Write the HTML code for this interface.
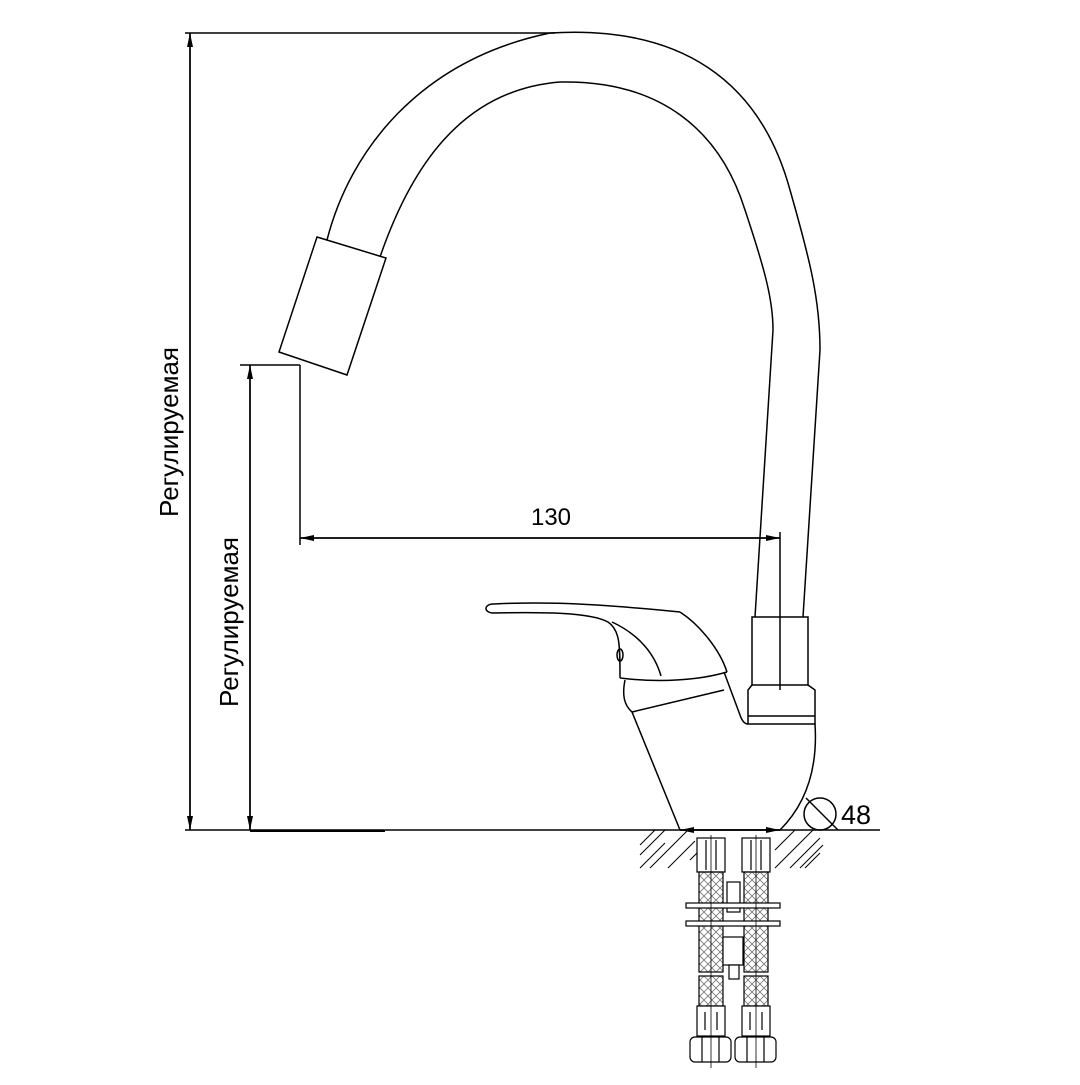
<!DOCTYPE html>
<html><head><meta charset="utf-8"><style>html,body{margin:0;padding:0;background:#fff}</style></head>
<body>
<svg width="1080" height="1080" viewBox="0 0 1080 1080" xmlns="http://www.w3.org/2000/svg" font-family="Liberation Sans, sans-serif">
<defs>
<marker id="a" markerWidth="14" markerHeight="6" refX="14" refY="3" orient="auto" markerUnits="userSpaceOnUse"><path d="M0,0 L14,3 L0,6 z" fill="#000"/></marker>
<pattern id="mesh" width="8" height="8" patternUnits="userSpaceOnUse"><path d="M0,0 L8,8 M8,0 L0,8" stroke="#777" stroke-width="0.8"/></pattern>
</defs>
<g fill="none" stroke="#000" stroke-width="1.5">
<line x1="185" y1="33" x2="555" y2="33"/>
<line x1="190" y1="830" x2="190" y2="33" marker-end="url(#a)"/>
<line x1="190" y1="33" x2="190" y2="830" marker-end="url(#a)"/>
<line x1="185" y1="830" x2="880" y2="830"/>
<line x1="250" y1="831" x2="385" y2="831" stroke-width="2"/>
<line x1="240" y1="365" x2="300" y2="365"/>
<line x1="250" y1="830" x2="250" y2="365" marker-end="url(#a)"/>
<line x1="250" y1="365" x2="250" y2="830" marker-end="url(#a)"/>
<line x1="300" y1="365" x2="300" y2="545"/>
<line x1="780" y1="532" x2="780" y2="690"/>
<line x1="300" y1="538" x2="780" y2="538" marker-end="url(#a)"/>
<line x1="780" y1="538" x2="300" y2="538" marker-end="url(#a)"/>
<path d="M327,240 C350,150 420,60 550,33 C680,25 760,80 790,190 C810,260 820,300 820,350 L803,617"/>
<path d="M380,257 C410,170 460,90 560,82 C660,80 720,130 745,210 C765,270 773,300 773,330 L755,617"/>
<path d="M317,237 L386,258 L347,375 L279,352 Z"/>
<rect x="752" y="617" width="56" height="68"/>
<path d="M752,685 L748,690 L748,724 L815,724 L815,690 L808,685"/>
<line x1="748" y1="716" x2="815" y2="716"/>
<path d="M680,612 C560,600 520,603 492,604 C484,605 484,612 492,613 C540,612 590,612 608,622 C620,630 620,645 620,678"/>
<path d="M680,612 C700,625 720,650 727,672"/>
<path d="M620,678 C660,683 700,680 727,672"/>
<path d="M612,622 C640,635 655,655 661,676"/>
<ellipse cx="620" cy="655" rx="3" ry="6"/>
<path d="M625,680 C622,695 624,705 632,712 L680,830"/>
<line x1="632" y1="712" x2="724" y2="690"/>
<path d="M724,672 L740,715 C742,721 745,724 748,724"/>
<path d="M815,724 C818,770 805,805 780,830"/>
<circle cx="820" cy="814" r="16"/>
<line x1="806" y1="798" x2="838" y2="830"/>
<line x1="680" y1="830" x2="780" y2="830" marker-end="url(#a)"/>
<line x1="780" y1="830" x2="680" y2="830" marker-end="url(#a)"/>
</g>
<g stroke="#000" stroke-width="1">
<path d="M640,868 L665,843 M650,868 L688,830 M668,868 L695,841 M640,855 L665,830 M655,830 L640,845 M690,860 L697,853"/>
<path d="M775,868 L813,830 M790,868 L820,838 M805,868 L820,853 M775,850 L795,830 M800,868 L823,845"/>
</g>
<g stroke="#000" stroke-width="1.2" fill="none">
<rect x="697" y="838" width="28" height="34"/><line x1="706" y1="840" x2="706" y2="870"/><line x1="716" y1="840" x2="716" y2="870"/>
<rect x="742" y="838" width="28" height="34"/><line x1="751" y1="840" x2="751" y2="870"/><line x1="761" y1="840" x2="761" y2="870"/>
<rect x="699" y="872" width="24" height="100" fill="url(#mesh)"/>
<rect x="744" y="872" width="24" height="100" fill="url(#mesh)"/>
<rect x="699" y="976" width="24" height="30" fill="url(#mesh)"/>
<rect x="744" y="976" width="24" height="30" fill="url(#mesh)"/>
<rect x="727" y="882" width="13" height="30" fill="#fff"/>
<rect x="686" y="903" width="94" height="5" fill="#fff"/>
<rect x="686" y="921" width="94" height="5" fill="#fff"/>
<rect x="723" y="937" width="20" height="28" fill="#fff"/>
<rect x="729" y="965" width="10" height="14" fill="#fff"/>
<rect x="697" y="1006" width="28" height="30" fill="#fff"/><line x1="705" y1="1012" x2="705" y2="1030"/><line x1="717" y1="1012" x2="717" y2="1030"/>
<rect x="742" y="1006" width="28" height="30" fill="#fff"/><line x1="750" y1="1012" x2="750" y2="1030"/><line x1="762" y1="1012" x2="762" y2="1030"/>
</g>
<g stroke="#000" stroke-width="1.2" fill="#fff">
<rect x="690" y="1037" width="41" height="25" rx="5"/><line x1="702" y1="1037" x2="702" y2="1062"/><line x1="719" y1="1037" x2="719" y2="1062"/>
<rect x="735" y="1037" width="41" height="25" rx="5"/><line x1="747" y1="1037" x2="747" y2="1062"/><line x1="764" y1="1037" x2="764" y2="1062"/>
</g>
<g stroke="#000" stroke-width="0.8">
<line x1="711" y1="835" x2="711" y2="1068"/><line x1="756" y1="835" x2="756" y2="1068"/>
</g>
<g font-size="24" fill="#000">
<text x="551" y="525" text-anchor="middle">130</text>
<text x="841" y="824" font-size="27">48</text>
<text transform="translate(178,432) rotate(-90)" text-anchor="middle" font-size="26">Регулируемая</text>
<text transform="translate(238,622) rotate(-90)" text-anchor="middle" font-size="26">Регулируемая</text>
</g>
</svg>
</body></html>
